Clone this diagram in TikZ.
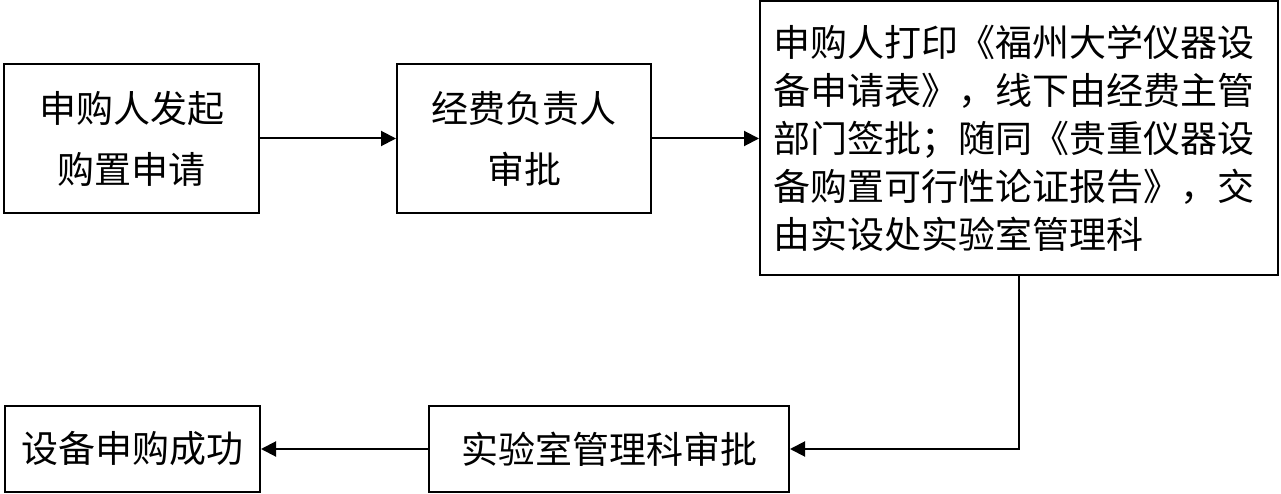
\documentclass[tikz,border=0pt]{standalone}
\usepackage{fontspec}
\setmainfont{Noto Sans CJK SC}
\usetikzlibrary{arrows.meta}
\begin{document}
\begin{tikzpicture}[x=1pt,y=-1pt,
  box/.style={draw, line width=2pt, inner sep=0pt, align=center, font=\fontsize{37}{61}\selectfont},
  conn/.style={line width=2pt, -{Triangle[length=15pt,width=15pt]}}]
\useasboundingbox (0,0) rectangle (1281,494);
\node[box, minimum width=255pt, minimum height=149pt] (a) at (131.5,138.5) {申购人发起\\购置申请};
\node[box, minimum width=254pt, minimum height=149pt] (b) at (524,138.5) {经费负责人\\审批};
\node[box, minimum width=518pt, minimum height=274pt, text width=491pt, align=left, font=\fontsize{37}{48}\selectfont] (c) at (1019,138) {申购人打印《福州大学仪器设\\备申请表》，线下由经费主管\\部门签批；随同《贵重仪器设\\备购置可行性论证报告》，交\\由实设处实验室管理科};
\node[box, minimum width=360pt, minimum height=86pt] (d) at (609,449) {实验室管理科审批};
\node[box, minimum width=255pt, minimum height=86pt] (e) at (132.5,449) {设备申购成功};
\draw[conn] (a) -- (b);
\draw[conn] (b) -- (b -| c.west);
\draw[conn] (c.south) |- (d.east);
\draw[conn] (d) -- (e);
\end{tikzpicture}
\end{document}
